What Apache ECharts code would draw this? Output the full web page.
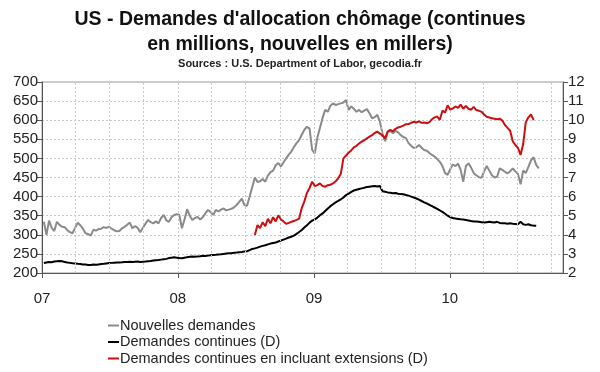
<!DOCTYPE html>
<html><head><meta charset="utf-8">
<script src="https://cdn.jsdelivr.net/npm/echarts@6/dist/echarts.min.js"></script>
<style>html,body{margin:0;padding:0;background:#fff}#c{width:600px;height:372px}</style>
</head><body><div id="c"></div>
<script>
// Weekly data, first week ending 2007-01-06
const firstWeek = '2007-01-06';
const seriesNames = ['Nouvelles demandes', 'Demandes continues (D)', 'Demandes continues en incluant extensions (D)'];
const yearLabels = ['07', '08', '09', '10'];

// Nouvelles demandes (milliers), weekly 2007-01-06 .. 2010-08-28
const newClaims2007 = [334,300,337,318,310,334,326,321,320,312,307,304,318,332,325,316,304,302,298,313,311,315,316,320,318,321,316,312,309,310,317,321,326,332,317,323,318,307,318,329,339,333,330,335,330,344,352,338,334,346,352,354];
const newClaims2008 = [352,317,340,367,350,339,344,347,340,346,356,365,360,352,365,361,366,369,364,366,368,372,378,386,395,378,376,400,425,450,438,440,446,439,455,464,468,482,488,479,490,500,510,518,530,540,548,562,575,583,578,522];
const newClaims2009 = [513,555,580,606,627,622,638,644,640,642,644,646,653,627,636,630,622,627,621,625,629,618,605,608,614,596,565,545,568,572,566,572,568,561,556,553,540,533,527,529,535,528,522,520,514,509,505,498,491,480,462,457];
const newClaims2010 = [472,484,480,486,470,439,480,487,476,462,456,451,449,466,480,468,456,450,452,474,470,465,461,466,474,466,459,432,468,462,478,495,503,483,474];

// Demandes continues (millions), weekly from 2007-01-06
const continuing2007 = [2.52,2.55,2.57,2.56,2.6,2.62,2.63,2.61,2.58,2.55,2.53,2.51,2.5,2.48,2.47,2.45,2.44,2.42,2.42,2.44,2.43,2.45,2.47,2.48,2.5,2.52,2.53,2.54,2.55,2.55,2.56,2.58,2.58,2.59,2.58,2.59,2.6,2.58,2.59,2.6,2.62,2.63,2.65,2.67,2.68,2.7,2.72,2.74,2.78,2.8,2.82,2.8];
const continuing2008 = [2.78,2.77,2.8,2.83,2.85,2.86,2.85,2.87,2.88,2.9,2.89,2.91,2.93,2.94,2.95,2.97,2.98,3.0,3.02,3.03,3.04,3.06,3.07,3.09,3.1,3.12,3.14,3.2,3.26,3.29,3.33,3.38,3.42,3.45,3.5,3.54,3.57,3.6,3.65,3.7,3.75,3.8,3.86,3.9,3.96,4.05,4.15,4.25,4.38,4.5,4.64,4.74];
const continuing2009 = [4.8,4.9,5.02,5.12,5.25,5.38,5.5,5.6,5.7,5.78,5.86,5.95,6.08,6.15,6.25,6.32,6.36,6.4,6.43,6.46,6.5,6.52,6.54,6.55,6.53,6.56,6.28,6.25,6.22,6.2,6.18,6.19,6.15,6.13,6.12,6.08,6.05,6.0,5.95,5.9,5.84,5.77,5.7,5.64,5.57,5.5,5.43,5.36,5.28,5.2,5.1,5.0];
const continuing2010 = [4.92,4.88,4.85,4.83,4.81,4.8,4.78,4.75,4.72,4.7,4.69,4.68,4.66,4.64,4.66,4.68,4.66,4.64,4.68,4.62,4.6,4.6,4.58,4.6,4.58,4.57,4.55,4.68,4.55,4.52,4.55,4.5,4.48,4.47];

// Demandes continues incl. extensions (millions), weekly from 2008-07-26
const extStart = '2008-07-26';
const continuingExt = [3.99,4.51,4.35,4.66,4.45,4.84,4.6,4.92,4.7,5.02,4.8,4.7,4.58,4.62,4.68,4.72,4.78,4.85,5.4,5.75,6.2,6.45,6.78,6.55,6.6,6.69,6.55,6.52,6.6,6.62,6.69,6.8,6.96,7.2,8.0,8.15,8.3,8.42,8.58,8.66,8.78,8.88,8.95,9.05,9.14,9.22,9.33,9.4,9.3,9.2,9.05,9.42,9.49,9.42,9.55,9.62,9.66,9.72,9.79,9.8,9.86,9.92,9.88,9.94,9.86,9.88,9.84,9.9,10.05,10.15,10.19,10.02,10.5,10.4,10.78,10.55,10.62,10.72,10.65,10.82,10.6,10.75,10.6,10.55,10.7,10.53,10.5,10.44,10.3,10.18,10.14,10.1,10.08,10.05,10.08,9.98,9.75,9.6,9.45,8.9,8.7,8.55,8.18,8.75,9.9,10.15,10.3,10.0];

// Quarterly grid dates
const quarterLines = ['2007-04-01','2007-07-01','2007-10-01','2008-01-01','2008-04-01','2008-07-01','2008-10-01','2009-01-01','2009-04-01','2009-07-01','2009-10-01','2010-01-01','2010-04-01','2010-07-01','2010-10-01'];

const DAY = 86400000;
function weekly(start, vals) {
  const t0 = new Date(start + 'T00:00:00').getTime();
  return vals.map((v, i) => [t0 + i * 7 * DAY, v]);
}
const newClaims = weekly(firstWeek, [].concat(newClaims2007, newClaims2008, newClaims2009, newClaims2010));
const continuing = weekly(firstWeek, [].concat(continuing2007, continuing2008, continuing2009, continuing2010));
const ext = weekly(extStart, continuingExt);

const FONT = 'Liberation Sans, Arial, sans-serif';
const chart = echarts.init(document.getElementById('c'), null, {renderer: 'canvas'});
chart.setOption({
  animation: false,
  backgroundColor: '#fff',
  title: {
    text: "US - Demandes d'allocation chômage (continues\nen millions, nouvelles en millers)",
    subtext: 'Sources : U.S. Department of Labor, gecodia.fr',
    left: 'center', top: 2, itemGap: 1,
    textStyle: {fontFamily: FONT, fontSize: 19.5, fontWeight: 'bold', color: '#111', lineHeight: 25},
    subtextStyle: {fontFamily: FONT, fontSize: 11, fontWeight: 'bold', color: '#222'}
  },
  legend: {
    orient: 'vertical', left: 103, top: 313, itemGap: 1.5,
    icon: 'rect', itemWidth: 11, itemHeight: 2,
    textStyle: {fontFamily: FONT, fontSize: 14.5, color: '#222', padding: [0,0,0,-4]},
    data: seriesNames
  },
  grid: {left: 42, right: 37, top: 82, bottom: 99, show: true, borderColor: '#9a9a9a', borderWidth: 1},
  xAxis: {
    type: 'time', min: '2007-01-01', max: '2010-11-01',
    splitNumber: 4, minInterval: 365 * DAY,
    axisLine: {lineStyle: {color: '#555'}},
    axisTick: {length: 5, lineStyle: {color: '#555'}},
    axisLabel: {
      fontFamily: FONT, fontSize: 15, color: '#222', margin: 18, showMaxLabel: false,
      formatter: function (v) {
        const d = new Date(v);
        if (d.getMonth() !== 0 || d.getDate() !== 1) return '';
        const idx = d.getFullYear() - 2007;
        return yearLabels[idx] || '';
      }
    },
    splitLine: {show: false}
  },
  yAxis: [{
    type: 'value', min: 200, max: 700, interval: 50,
    axisLine: {show: true, lineStyle: {color: '#555'}},
    axisTick: {show: true, length: 5, lineStyle: {color: '#555'}},
    axisLabel: {fontFamily: FONT, fontSize: 15, color: '#222', margin: 4},
    splitLine: {show: true, lineStyle: {color: '#c8c8c8', type: [2, 2]}}
  }, {
    type: 'value', min: 2, max: 12, interval: 1,
    axisLine: {show: true, lineStyle: {color: '#555'}},
    axisTick: {show: true, length: 5, lineStyle: {color: '#555'}},
    axisLabel: {fontFamily: FONT, fontSize: 15, color: '#222', margin: 5},
    splitLine: {show: false}
  }],
  series: [{
    name: seriesNames[0], type: 'line', yAxisIndex: 0, data: newClaims,
    showSymbol: false, lineStyle: {color: '#8a8a8a', width: 2}, itemStyle: {color: '#8a8a8a'},
    z: 3,
    markLine: {
      silent: true, symbol: 'none', label: {show: false},
      lineStyle: {color: '#c8c8c8', type: [2, 2], width: 1},
      data: quarterLines.map(q => ({xAxis: new Date(q + 'T00:00:00').getTime()}))
    }
  }, {
    name: seriesNames[1], type: 'line', yAxisIndex: 1, data: continuing,
    showSymbol: false, lineStyle: {color: '#000', width: 2}, itemStyle: {color: '#000'}, z: 4
  }, {
    name: seriesNames[2], type: 'line', yAxisIndex: 1, data: ext,
    showSymbol: false, lineStyle: {color: '#cc1010', width: 2}, itemStyle: {color: '#cc1010'}, z: 5
  }]
});
</script></body></html>
